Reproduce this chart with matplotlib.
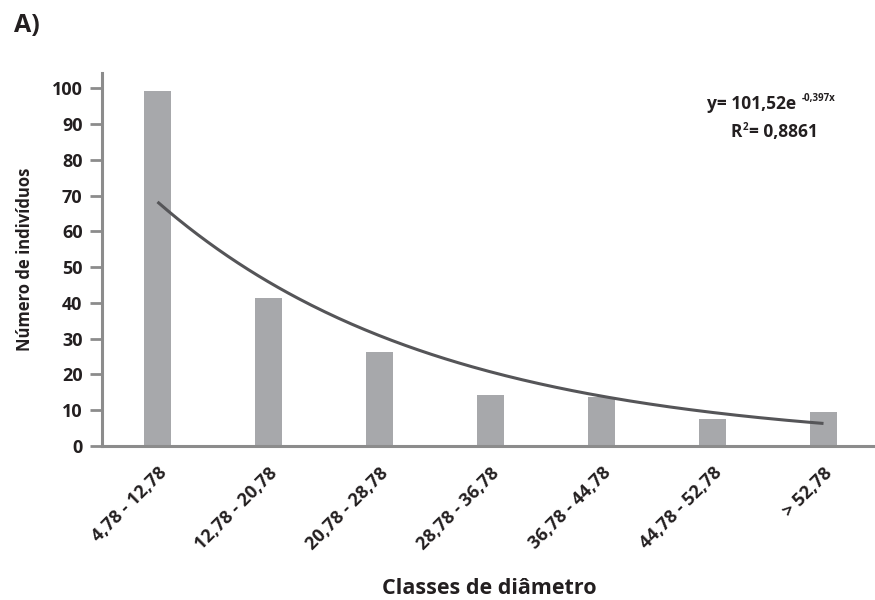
import numpy as np
import matplotlib
matplotlib.use("Agg")
import matplotlib.pyplot as plt

plt.rcParams['font.family'] = ['Open Sans', 'DejaVu Sans']

# Diameter classes and number of individuals per class
classes = ["4,78 - 12,78", "12,78 - 20,78", "20,78 - 28,78", "28,78 - 36,78",
           "36,78 - 44,78", "44,78 - 52,78", "> 52,78"]
counts = [99.2, 41.4, 26.3, 14.3, 13.7, 7.5, 9.5]

# Exponential fit y = a * exp(b * x), x = class index starting at 1
fit_a = 101.52
fit_b = -0.397
r_squared = 0.8861

bar_color = "#a7a8ab"
axis_color = "#8c8c8c"
text_color = "#231f20"
line_color = "#555558"

fig = plt.figure(figsize=(8.75, 6.0), dpi=100)
ax = fig.add_axes([102 / 875, 1 - 446 / 600, 777 / 875, (446 - 73) / 600])

x = np.arange(len(classes))
ax.bar(x, counts, width=0.245, color=bar_color, zorder=2)

xf = np.linspace(1, len(classes), 200)
ax.plot(xf - 1, fit_a * np.exp(fit_b * xf), color=line_color, lw=2.2,
        solid_capstyle='butt', zorder=3)

ax.set_xlim(-0.5, len(classes) - 0.5)
ax.set_ylim(0, 104.3)
ax.set_yticks(range(0, 101, 10))
ax.set_xticks(x)
ax.set_xticklabels(classes, rotation=45, ha='right', rotation_mode='anchor',
                   fontsize=13, fontweight='bold', color=text_color)
for lab in ax.get_yticklabels():
    lab.set_fontsize(13)
    lab.set_fontweight('bold')
    lab.set_color(text_color)

ax.tick_params(axis='x', length=0, pad=13)
ax.tick_params(axis='y', length=9, width=2, color=axis_color, pad=5)
for side in ('top', 'right'):
    ax.spines[side].set_visible(False)
for side in ('left', 'bottom'):
    ax.spines[side].set_color(axis_color)
    ax.spines[side].set_linewidth(2.2)

ax.set_ylabel("Número de indivíduos", fontsize=12, fontweight='bold',
              color=text_color, labelpad=13)
fig.text(489 / 875, 1 - 588 / 600, "Classes de diâmetro", fontsize=15.5,
         fontweight='bold', color=text_color, ha='center', va='center')

fig.text(14 / 875, 1 - 26 / 600, "A)", fontsize=18, fontweight='bold',
         color=text_color, ha='left', va='center')

# Equation and coefficient of determination
fig.text(707 / 875, 1 - 104 / 600, "y= 101,52e", fontsize=12.5, fontweight='bold',
         color=text_color, ha='left', va='center')
fig.text(802 / 875, 1 - 99 / 600, "-0,397x", fontsize=7, fontweight='bold',
         color=text_color, ha='left', va='center')
fig.text(731 / 875, 1 - 132 / 600, "R", fontsize=12.5, fontweight='bold',
         color=text_color, ha='left', va='center')
fig.text(743 / 875, 1 - 128 / 600, "2", fontsize=7, fontweight='bold',
         color=text_color, ha='left', va='center')
fig.text(749 / 875, 1 - 132 / 600, "= 0,8861", fontsize=12.5, fontweight='bold',
         color=text_color, ha='left', va='center')

fig.savefig("out.png", dpi=100)
